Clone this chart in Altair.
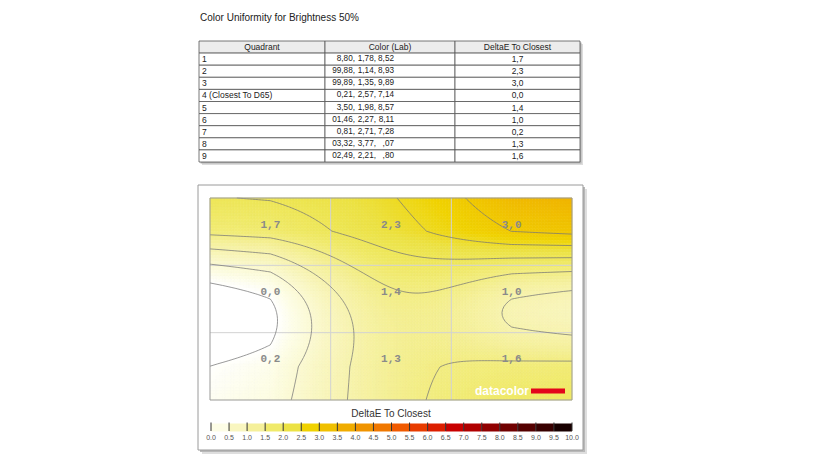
import altair as alt
import numpy as np
import pandas as pd

# ---------------- data ----------------
title_text = "Color Uniformity for Brightness 50%"
headers = ["Quadrant", "Color (Lab)", "DeltaE To Closest"]
quadrants = ["1", "2", "3", "4 (Closest To D65)", "5", "6", "7", "8", "9"]
lab_L = ["8,80,", "99,88,", "99,89,", "0,21,", "3,50,", "01,46,", "0,81,", "03,32,", "02,49,"]
lab_a = ["1,78,", "1,14,", "1,35,", "2,57,", "1,98,", "2,27,", "2,71,", "3,77,", "2,21,"]
lab_b = ["8,52", "8,93", "9,89", "7,14", "8,57", "8,11", "7,28", ",07", ",80"]
delta_e = [1.7, 2.3, 3.0, 0.0, 1.4, 1.0, 0.2, 1.3, 1.6]
legend_title = "DeltaE To Closest"
legend_ticks = [0.0, 0.5, 1.0, 1.5, 2.0, 2.5, 3.0, 3.5, 4.0, 4.5, 5.0,
                5.5, 6.0, 6.5, 7.0, 7.5, 8.0, 8.5, 9.0, 9.5, 10.0]
legend_colors = ["#fdfde6", "#f9f6c0", "#f5f09a", "#f0ea6a", "#ece244",
                 "#f0d200", "#f0c000", "#f0ac00", "#f09400", "#f07800",
                 "#f05a00", "#e83c00", "#dc1e00", "#c80000", "#b00000",
                 "#900000", "#700000", "#540000", "#380000", "#180000"]
contour_levels = [0.0, 0.5, 1.0, 1.5, 2.0, 2.5, 3.0]
logo_text = "datacolor"

# ---------------- layout (page px -> chart px) ----------------
OFF = 8
def px(p):
    return p - OFF

FONT = "Liberation Sans"

# ---------------- field interpolation from the 3x3 values ----------------
DAMP = 0.3

def spline_weights(t):
    W = np.zeros((len(t), 3))
    for k in range(3):
        y = np.zeros(3)
        y[k] = 1.0
        M1 = 1.5 * (y[0] - 2 * y[1] + y[2])
        s0 = (y[1] - y[0]) - M1 / 6
        s2 = (y[2] - y[1]) + M1 / 6
        out = np.empty_like(t)
        a = t < 0
        out[a] = y[0] + DAMP * s0 * t[a]
        b = (t >= 0) & (t < 1)
        tb = t[b]
        out[b] = M1 * tb ** 3 / 6 + y[0] * (1 - tb) + (y[1] - M1 / 6) * tb
        c = (t >= 1) & (t <= 2)
        u = t[c] - 1
        out[c] = M1 * (1 - u) ** 3 / 6 + (y[1] - M1 / 6) * (1 - u) + y[2] * u
        d = t > 2
        out[d] = y[2] + DAMP * s2 * (t[d] - 2)
        W[:, k] = out
    return W

V = np.array(delta_e).reshape(3, 3)
NX, NY = 120, 67
xe = np.linspace(-0.5, 2.5, NX + 1)
ye = np.linspace(-0.5, 2.5, NY + 1)
xc = (xe[:-1] + xe[1:]) / 2
yc = (ye[:-1] + ye[1:]) / 2
Fc = spline_weights(yc) @ V @ spline_weights(xc).T
Fe = spline_weights(ye) @ V @ spline_weights(xe).T

J, I = np.meshgrid(np.arange(NX), np.arange(NY))
heat_df = pd.DataFrame({
    "x0": np.round(xe[J.ravel()], 4), "x1": np.round(xe[J.ravel() + 1], 4),
    "y0": np.round(ye[I.ravel()], 4), "y1": np.round(ye[I.ravel() + 1], 4),
    "v": np.round(Fc.ravel(), 3),
})

def contour_segments(Z, xs, ys, level):
    segs = []
    ny, nx = Z.shape
    for i in range(ny - 1):
        for j in range(nx - 1):
            vals = [Z[i, j], Z[i, j + 1], Z[i + 1, j + 1], Z[i + 1, j]]
            above = [v >= level for v in vals]
            if all(above) or not any(above):
                continue
            corners = [(xs[j], ys[i]), (xs[j + 1], ys[i]), (xs[j + 1], ys[i + 1]), (xs[j], ys[i + 1])]
            pts = []
            for e in range(4):
                a, b = e, (e + 1) % 4
                if above[a] != above[b]:
                    t = (level - vals[a]) / (vals[b] - vals[a])
                    pts.append((corners[a][0] + t * (corners[b][0] - corners[a][0]),
                                corners[a][1] + t * (corners[b][1] - corners[a][1])))
            if len(pts) == 2:
                segs.append((pts[0], pts[1]))
            elif len(pts) == 4:
                centre = sum(vals) / 4
                if (centre >= level) == above[0]:
                    segs.append((pts[0], pts[1]))
                    segs.append((pts[2], pts[3]))
                else:
                    segs.append((pts[3], pts[0]))
                    segs.append((pts[1], pts[2]))
    return segs

rows = []
for lv in contour_levels:
    for (p, q) in contour_segments(Fe, xe, ye, lv):
        rows.append({"x0": round(p[0], 4), "y0": round(p[1], 4), "x1": round(q[0], 4), "y1": round(q[1], 4)})
contour_df = pd.DataFrame(rows)

# ---------------- scales ----------------
tx = alt.Scale(domain=[0, 1, 2, 3], range=[px(199), px(325), px(455), px(580)], nice=False, zero=False)
ty = alt.Scale(domain=[0, 10], range=[px(41), px(162)], nice=False, zero=False)
hx = alt.Scale(domain=[-0.5, 2.5], range=[px(210), px(572)], nice=False, zero=False)
hy = alt.Scale(domain=[-0.5, 2.5], range=[px(198), px(400)], nice=False, zero=False)
lx = alt.Scale(domain=[0, 10], range=[px(211), px(572)], nice=False, zero=False)
mids = [(legend_ticks[k] + legend_ticks[k + 1]) / 2 for k in range(len(legend_colors))]
cs = alt.Scale(domain=[0.0] + mids, range=["#ffffff"] + legend_colors, clamp=True, interpolate="rgb")

one = pd.DataFrame({"k": [0]})

# ---------------- outer frame ----------------
def frame_rect(dx, color, stroke=None):
    kw = {}
    if stroke:
        kw = {"stroke": stroke, "strokeWidth": 1}
    return alt.Chart(one).mark_rect(color=color, **kw).encode(
        x=alt.value(px(198) + dx), x2=alt.value(px(583) + dx),
        y=alt.value(px(185) + dx), y2=alt.value(px(450) + dx))

frame = alt.layer(frame_rect(4, "#dedede"), frame_rect(2, "#b8b8b8"), frame_rect(0, "#ffffff", "#9a9a9a"))

title = alt.Chart(one).mark_text(align="left", baseline="middle", font=FONT, fontSize=10, color="#222").encode(
    x=alt.value(px(200)), y=alt.value(px(18)), text=alt.value(title_text))

# ---------------- table ----------------
cells = pd.DataFrame([{"c": c, "c1": c + 1, "r": r, "r1": r + 1,
                       "fill": "#ececec" if r == 0 else "#ffffff"} for r in range(10) for c in range(3)])
tshadow = pd.DataFrame({"c": [0], "c1": [3], "r": [0], "r1": [10]})
hdr = pd.DataFrame({"cm": [0.5, 1.5, 2.5], "rm": [0.5] * 3, "h": headers})
body = pd.DataFrame({
    "rm": [k + 1.5 for k in range(9)], "c0": [0] * 9, "c1": [1] * 9, "c2m": [2.5] * 9,
    "q": quadrants, "L": lab_L, "a": lab_a, "b": lab_b,
    "de": [f"{v:.1f}".replace(".", ",") for v in delta_e],
})

X = lambda f: alt.X(f, scale=tx, axis=None)
Y = lambda f: alt.Y(f, scale=ty, axis=None)

t_sh1 = alt.Chart(tshadow).mark_rect(color="#dcdcdc", xOffset=3, x2Offset=3, yOffset=3, y2Offset=3).encode(
    x=X("c:Q"), x2="c1:Q", y=Y("r:Q"), y2="r1:Q")
t_sh2 = alt.Chart(tshadow).mark_rect(color="#b4b4b4", xOffset=1.5, x2Offset=1.5, yOffset=1.5, y2Offset=1.5).encode(
    x=X("c:Q"), x2="c1:Q", y=Y("r:Q"), y2="r1:Q")
t_cells = alt.Chart(cells).mark_rect(stroke="#555", strokeWidth=0.8).encode(
    x=X("c:Q"), x2="c1:Q", y=Y("r:Q"), y2="r1:Q", fill=alt.Fill("fill:N", scale=None))
t_hdr = alt.Chart(hdr).mark_text(font=FONT, fontSize=8.5, color="#222", baseline="middle").encode(
    x=X("cm:Q"), y=Y("rm:Q"), text="h:N")
t_q = alt.Chart(body).mark_text(font=FONT, fontSize=8.5, color="#222", align="left", baseline="middle", dx=3).encode(
    x=X("c0:Q"), y=Y("rm:Q"), text="q:N")
NUM = 8.2
t_L = alt.Chart(body).mark_text(font=FONT, fontSize=NUM, color="#222", align="right", baseline="middle", dx=30).encode(
    x=X("c1:Q"), y=Y("rm:Q"), text="L:N")
t_a = alt.Chart(body).mark_text(font=FONT, fontSize=NUM, color="#222", align="right", baseline="middle", dx=51).encode(
    x=X("c1:Q"), y=Y("rm:Q"), text="a:N")
t_b = alt.Chart(body).mark_text(font=FONT, fontSize=NUM, color="#222", align="right", baseline="middle", dx=69).encode(
    x=X("c1:Q"), y=Y("rm:Q"), text="b:N")
t_de = alt.Chart(body).mark_text(font=FONT, fontSize=8.4, color="#222", baseline="middle").encode(
    x=X("c2m:Q"), y=Y("rm:Q"), text="de:N")
table = alt.layer(t_sh1, t_sh2, t_cells, t_hdr, t_q, t_L, t_a, t_b, t_de)

# ---------------- heat map ----------------
HX = lambda f: alt.X(f, scale=hx, axis=None)
HY = lambda f: alt.Y(f, scale=hy, axis=None)

h_rect = alt.Chart(heat_df).mark_rect(strokeWidth=0.6).encode(
    x=HX("x0:Q"), x2="x1:Q", y=HY("y0:Q"), y2="y1:Q",
    fill=alt.Fill("v:Q", scale=cs, legend=None),
    stroke=alt.Stroke("v:Q", scale=cs, legend=None))
gx = pd.DataFrame({"g": [0.5, 1.5]})
h_gridx = alt.Chart(gx).mark_rule(color="#d2d2d2", strokeWidth=1).encode(
    x=HX("g:Q"), y=alt.value(px(198)), y2=alt.value(px(400)))
h_gridy = alt.Chart(gx).mark_rule(color="#d2d2d2", strokeWidth=1).encode(
    y=HY("g:Q"), x=alt.value(px(210)), x2=alt.value(px(572)))
h_cont = alt.Chart(contour_df).mark_rule(color="#777777", strokeWidth=1, opacity=0.75).encode(
    x=HX("x0:Q"), y=HY("y0:Q"), x2="x1:Q", y2="y1:Q")
labels = pd.DataFrame({
    "cx": [k % 3 for k in range(9)], "cy": [k // 3 for k in range(9)],
    "t": [f"{v:.1f}".replace(".", ",") for v in delta_e],
})
h_lab = alt.Chart(labels).mark_text(font="Liberation Mono", fontWeight="bold", fontSize=11,
                                    color="#8a8a8a", baseline="middle", dy=-7).encode(
    x=HX("cx:Q"), y=HY("cy:Q"), text="t:N")
heat = alt.layer(h_rect, h_gridx, h_gridy, h_cont, h_lab)

h_border = alt.Chart(one).mark_rect(fillOpacity=0, stroke="#9a9a9a", strokeWidth=1).encode(
    x=alt.value(px(210)), x2=alt.value(px(572)), y=alt.value(px(198)), y2=alt.value(px(400)))

logo_t = alt.Chart(one).mark_text(align="right", baseline="middle", font=FONT, fontWeight="bold",
                                  fontSize=12, color="#ffffff").encode(
    x=alt.value(px(529)), y=alt.value(px(391)), text=alt.value(logo_text))
logo_bar = alt.Chart(one).mark_rect(color="#e3051b").encode(
    x=alt.value(px(531)), x2=alt.value(px(565)), y=alt.value(px(388.5)), y2=alt.value(px(393.5)))

# ---------------- legend ----------------
segs = pd.DataFrame({"lo": legend_ticks[:-1], "hi": legend_ticks[1:], "col": legend_colors})
ticks = pd.DataFrame({"t": legend_ticks, "lab": [f"{v:.1f}" for v in legend_ticks]})
LX = lambda f: alt.X(f, scale=lx, axis=None)

l_rect = alt.Chart(segs).mark_rect().encode(
    x=LX("lo:Q"), x2="hi:Q", y=alt.value(px(423.5)), y2=alt.value(px(431.5)),
    fill=alt.Fill("col:N", scale=None))
l_tick = alt.Chart(ticks).mark_rule(color="#333", strokeWidth=1).encode(
    x=LX("t:Q"), y=alt.value(px(422.5)), y2=alt.value(px(431)))
l_lab = alt.Chart(ticks).mark_text(font=FONT, fontSize=7, color="#555", baseline="middle").encode(
    x=LX("t:Q"), y=alt.value(px(437.5)), text="lab:N")
legend = alt.layer(l_rect, l_tick, l_lab)

l_title = alt.Chart(one).mark_text(font=FONT, fontSize=10, color="#333", baseline="middle").encode(
    x=alt.value(px(391)), y=alt.value(px(414)), text=alt.value(legend_title))

chart = alt.layer(
    frame, title, table, heat, h_border, logo_t, logo_bar, legend, l_title
).resolve_scale(x="independent", y="independent").properties(
    width=819, height=454, autosize=alt.AutoSizeParams(type="none"), padding=0,
    background="#ffffff"
).configure_view(stroke=None)

chart.save("out.html", embed_options={"renderer": "svg", "actions": False})
